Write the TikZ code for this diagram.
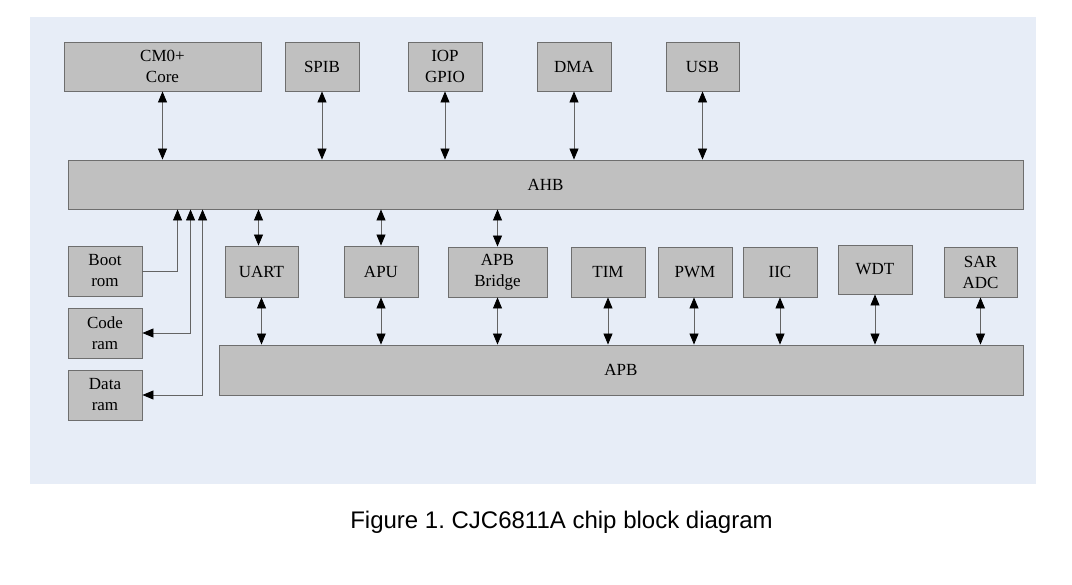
\documentclass[tikz,border=0pt]{standalone}
\usepackage{fontspec}
\setmainfont{Liberation Serif}
\newfontfamily\capfont{Liberation Sans}
\usetikzlibrary{arrows.meta}
\frenchspacing
\definecolor{bgblue}{RGB}{231,237,247}
\definecolor{boxfill}{RGB}{192,192,192}
\definecolor{boxline}{RGB}{110,110,110}
\definecolor{conn}{RGB}{100,100,100}
\tikzset{
  blk/.style={draw=boxline, fill=boxfill, line width=0.9pt, align=center, inner sep=0pt,
    font=\fontsize{17}{21}\selectfont},
  bi/.style={draw=conn, line width=0.8pt, {Triangle[length=11pt,width=9pt,black]}-{Triangle[length=11pt,width=9pt,black]}},
  uni/.style={draw=conn, line width=0.8pt, -{Triangle[length=11pt,width=9pt,black]}},
}
\begin{document}
\begin{tikzpicture}[x=1pt,y=1pt]
\useasboundingbox (0,0) rectangle (1072,-585);
\fill[bgblue] (30,-17) rectangle (1036,-484);
% top row
\node[blk, minimum width=197pt, minimum height=49pt] (cm0) at (162.5,-66.5) {CM0+\\Core};
\node[blk, minimum width=74pt, minimum height=49pt] (spib) at (322,-66.5) {SPIB};
\node[blk, minimum width=74pt, minimum height=49pt] (iop) at (445,-66.5) {IOP\\GPIO};
\node[blk, minimum width=74pt, minimum height=49pt] (dma) at (574,-66.5) {DMA};
\node[blk, minimum width=73pt, minimum height=49pt] (usb) at (702.5,-66.5) {USB};
% AHB
\node[blk, minimum width=955pt, minimum height=49pt] (ahb) at (545.5,-184.5) {AHB};
% memories
\node[blk, minimum width=74pt, minimum height=50pt] (boot) at (105,-271) {Boot\\rom};
\node[blk, minimum width=74pt, minimum height=50pt] (code) at (105,-333) {Code\\ram};
\node[blk, minimum width=74pt, minimum height=50pt] (data) at (105,-395) {Data\\ram};
% peripherals
\node[blk, minimum width=73pt, minimum height=51pt] (uart) at (261.5,-271.5) {UART};
\node[blk, minimum width=74pt, minimum height=51pt] (apu) at (381,-271.5) {APU};
\node[blk, minimum width=99pt, minimum height=50pt] (apbb) at (497.5,-272) {APB\\Bridge};
\node[blk, minimum width=74pt, minimum height=50pt] (tim) at (608,-272) {TIM};
\node[blk, minimum width=74pt, minimum height=50pt] (pwm) at (695,-272) {PWM};
\node[blk, minimum width=74pt, minimum height=50pt] (iic) at (780,-272) {IIC};
\node[blk, minimum width=74pt, minimum height=49pt] (wdt) at (875,-269.5) {WDT};
\node[blk, minimum width=73pt, minimum height=50pt] (sar) at (980.5,-272) {SAR\\ADC};
% APB
\node[blk, minimum width=804pt, minimum height=50pt] (apb) at (621,-370) {APB};
% top connectors
\draw[bi] (cm0.south) -- (cm0.south |- ahb.north);
\draw[bi] (spib.south) -- (spib.south |- ahb.north);
\draw[bi] (iop.south) -- (iop.south |- ahb.north);
\draw[bi] (dma.south) -- (dma.south |- ahb.north);
\draw[bi] (usb.south) -- (usb.south |- ahb.north);
% memory connectors
\draw[uni] (boot.east) -| ([xshift=110pt]ahb.south west);
\draw[bi] (code.east) -| ([xshift=123pt]ahb.south west);
\draw[bi] (data.east) -| ([xshift=135pt]ahb.south west);
% AHB to peripherals
\draw[bi] ([xshift=-3pt]uart.north) -- ([xshift=-3pt]uart.north |- ahb.south);
\draw[bi] (apu.north) -- (apu.north |- ahb.south);
\draw[bi] (apbb.north) -- (apbb.north |- ahb.south);
% peripherals to APB
\draw[bi] (uart.south) -- (uart.south |- apb.north);
\draw[bi] (apu.south) -- (apu.south |- apb.north);
\draw[bi] (apbb.south) -- (apbb.south |- apb.north);
\draw[bi] (tim.south) -- (tim.south |- apb.north);
\draw[bi] ([xshift=-1pt]pwm.south) -- ([xshift=-1pt]pwm.south |- apb.north);
\draw[bi] (iic.south) -- (iic.south |- apb.north);
\draw[bi] (wdt.south) -- (wdt.south |- apb.north);
\draw[bi] (sar.south) -- (sar.south |- apb.north);
% caption
\node[anchor=base, font=\capfont\fontsize{24}{28}\selectfont] (cap) at (561.5,-528) {Figure 1. CJC6811A chip block diagram};
\end{tikzpicture}
\end{document}
